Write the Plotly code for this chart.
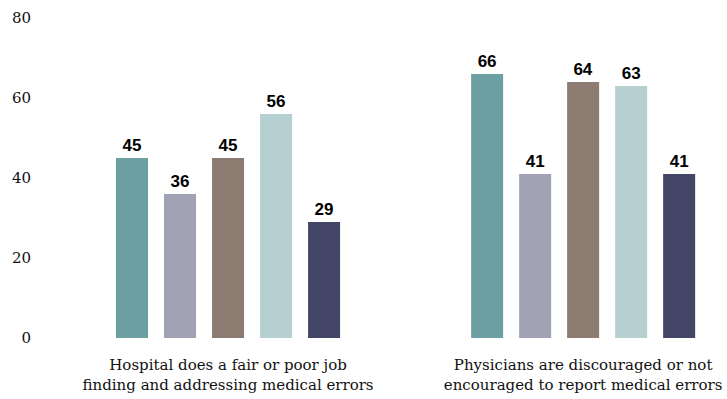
import plotly.graph_objects as go

categories = ["Hospital does a fair or poor job<br>finding and addressing medical errors",
              "Physicians are discouraged or not<br>encouraged to report medical errors"]
series_names = ["Series 1", "Series 2", "Series 3", "Series 4", "Series 5"]
series_values = [
    [45, 66],
    [36, 41],
    [45, 64],
    [56, 63],
    [29, 41],
]
colors = ["#6b9fa2", "#a1a3b4", "#8d7c71", "#b6d0d1", "#434667"]
y_ticks = [0, 20, 40, 60, 80]

serif = "DejaVu Serif"

fig = go.Figure()
for name, vals, col in zip(series_names, series_values, colors):
    fig.add_trace(go.Bar(
        x=categories, y=vals, name=name, marker=dict(color=col, line=dict(width=0)),
        text=[str(v) for v in vals], textposition="outside", cliponaxis=False,
        textfont=dict(family="Liberation Sans", size=17, color="black", weight="bold"),
    ))

fig.update_layout(
    width=727, height=399,
    margin=dict(l=40, r=10, t=18, b=61, autoexpand=False),
    paper_bgcolor="white", plot_bgcolor="white",
    barmode="group", bargap=0.324, bargroupgap=0.333,
    showlegend=False,
    font=dict(family=serif),
    xaxis=dict(range=[-0.5296, 1.377], showgrid=False, showline=False, zeroline=False,
               ticks="", ticklabelstandoff=16, automargin=False,
               tickfont=dict(family=serif, size=15, color="#111")),
    yaxis=dict(range=[0, 80], tickvals=y_ticks, showgrid=False, showline=False, zeroline=False,
               ticks="", ticklabelstandoff=8, automargin=False,
               tickfont=dict(family=serif, size=15, color="#111")),
)
fig.write_html("out.html")
